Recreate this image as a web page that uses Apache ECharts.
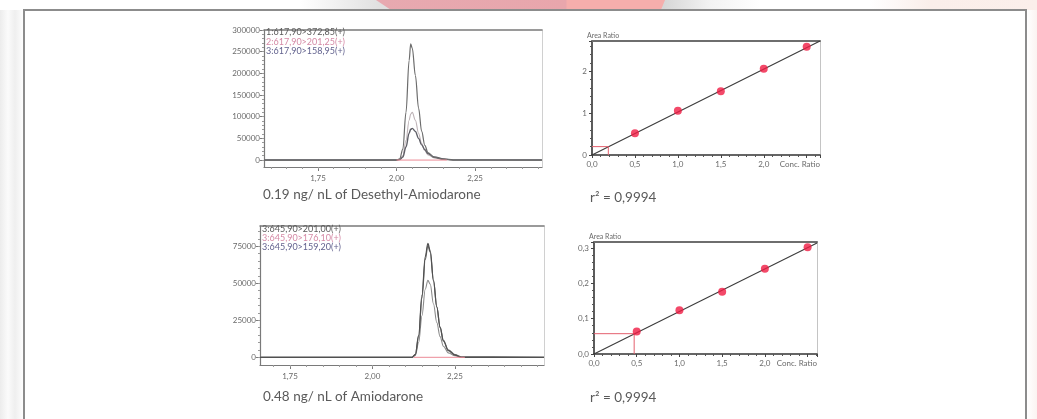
<!DOCTYPE html>
<html>
<head>
<meta charset="utf-8">
<script src="https://cdn.jsdelivr.net/npm/echarts@6/dist/echarts.min.js"></script>
<style>
  html, body { margin: 0; padding: 0; width: 1037px; height: 419px; overflow: hidden; }
  body {
    position: relative;
    background: linear-gradient(90deg, #ececec 0px, #fbfbfb 8px, #efefef 15px, #fdfdfd 23px, #fff 40px, #fff 1027px, #fbf3f1 1037px);
  }
  #strip {
    position: absolute; left: 0; top: 0; width: 1037px; height: 10px;
    background: linear-gradient(90deg, #fff 0px, #fff 300px, #e0e0e0 380px, #e0e0e0 390px, #fff 400px,
      #fff 650px, #d6d6d6 663px, #f2f2f2 709px, #fff 760px, #fff 870px, #faeeea 930px, #fbefeb 1037px);
  }
  #ribbon {
    position: absolute; left: 0; top: 0; width: 1037px; height: 10px;
    background: linear-gradient(90deg, #e7a9b0 376px, #e8a6ac 566px, #f5aeac 567px, #f5aeac 665px);
    clip-path: polygon(376px 0, 665px 0, 661px 10px, 391px 10px);
  }
  #frame {
    position: absolute; left: 23px; top: 9px; width: 1000px; height: 420px;
    border: 2px solid #8c8c8c; border-bottom: none; background: #fff;
  }
  #chart { position: absolute; left: 0; top: 0; width: 1037px; height: 419px; }
</style>
</head>
<body>
<div id="strip"></div>
<div id="ribbon"></div>
<div id="frame"></div>
<div id="chart"></div>
<script>
// ---- Chromatogram: 0.19 ng/nL Desethyl-Amiodarone (three MRM transitions) ----
const desNames = ['1:617,90>372,85(+)', '2:617,90>201,25(+)', '3:617,90>158,95(+)'];
const desTime  = [1.578, 2.000, 2.010, 2.020, 2.030, 2.040, 2.045, 2.050, 2.060, 2.070, 2.080, 2.090, 2.100, 2.120, 2.150, 2.180, 2.463];
const desIon1  = [0, 0, 3000, 25000, 110000, 230000, 268000, 258000, 195000, 120000, 66000, 34000, 17000, 6000, 2000, 0, 0];
const desIon2  = [0, 0, 1500, 10000, 45000, 92000, 106000, 110000, 92000, 62000, 38000, 22000, 12000, 5000, 1500, 0, 0];
const desIon3  = [0, 0, 1000, 7000, 30000, 62000, 71000, 73000, 66000, 50000, 35000, 24000, 15000, 7000, 2500, 500, 0];
const desIntegration = [[2.000, 0], [2.160, 0]];

// ---- Chromatogram: 0.48 ng/nL Amiodarone ----
const amiNames = ['3:645,90>201,00(+)', '3:645,90>176,10(+)', '3:645,90>159,20(+)'];
const amiTime  = [1.659, 2.120, 2.130, 2.140, 2.150, 2.160, 2.168, 2.175, 2.185, 2.195, 2.205, 2.215, 2.230, 2.250, 2.270, 2.520];
const amiIon1  = [0, 0, 2000, 15000, 42000, 68000, 77000, 72000, 52000, 34000, 20000, 11000, 4500, 1500, 0, 0];
const amiIon2  = [0, 0, 1300, 10000, 28000, 46000, 52000, 49500, 36000, 23500, 14000, 7500, 3000, 1000, 0, 0];
const amiIon3  = [0, 0, 1800, 14000, 40000, 66000, 75500, 71000, 51500, 34000, 20500, 11500, 5000, 1800, 300, 0];
const amiIntegration = [[2.125, 0], [2.280, 0]];

// ---- Calibration curves (Area Ratio vs Conc. Ratio) ----
const calConc     = [0.5, 1.0, 1.5, 2.0, 2.5];
const calDesRatio = [0.52, 1.055, 1.52, 2.06, 2.58];
const calAmiRatio = [0.064, 0.1235, 0.1765, 0.2416, 0.302];
const fitDes      = [[0, 0], [2.655, 2.72]];
const fitAmi      = [[0, 0], [2.61, 0.314]];
const sampleDes   = [[0, 0.20], [0.19, 0.20], [0.19, 0]];
const sampleAmi   = [[0, 0.0575], [0.47, 0.0575], [0.47, 0]];
const r2Text      = 'r² = 0,9994';

// ---- Tick labels ----
const desTimeTicks = [1.75, 2.00, 2.25];
const amiTimeTicks = [1.75, 2.00, 2.25];
const desIntTicks  = [0, 50000, 100000, 150000, 200000, 250000, 300000];
const amiIntTicks  = [0, 25000, 50000, 75000];

// axis extents
const desX = [1.578, 2.463], desY = [-16000, 300000];
const amiX = [1.659, 2.520], amiY = [-5200, 88700];
const calDesX = [0, 2.655], calDesY = [0, 2.72];
const calAmiX = [0, 2.61],  calAmiY = [0, 0.317];

const FONT = 'Lato, "DejaVu Sans", sans-serif';
const LABEL = { fontSize: 8, color: '#6a6a6a', fontFamily: FONT };

function pairs(xs, ys) { return xs.map((x, i) => [x, ys[i]]); }
function steps(from, to, step) {
  const out = [];
  for (let v = from; v <= to + 1e-9; v += step) out.push(+v.toFixed(6));
  return out;
}
const comma = (v, d) => v.toFixed(d).replace('.', ',');

// chromatogram axes: main (labels + major ticks), minor ticks, frame line
function chromX(grid, ext, ticks, minorStep) {
  return [
    { gridIndex: grid, type: 'value', min: ext[0], max: ext[1], position: 'bottom',
      axisLine: { onZero: false, lineStyle: { color: '#7a7a7a', width: 1.2 } },
      axisTick: { customValues: ticks, length: 4, lineStyle: { color: '#7a7a7a' } },
      axisLabel: { customValues: ticks, formatter: v => comma(v, 2), margin: 7, ...LABEL },
      splitLine: { show: false } },
    { gridIndex: grid, type: 'value', min: ext[0], max: ext[1], position: 'bottom',
      axisLine: { show: false, onZero: false },
      axisTick: { customValues: steps(Math.ceil(ext[0] / minorStep) * minorStep, ext[1], minorStep), length: 2, lineStyle: { color: '#9a9a9a' } },
      axisLabel: { show: false }, splitLine: { show: false } },
    { gridIndex: grid, type: 'value', min: ext[0], max: ext[1], position: 'top',
      axisLine: { onZero: false, lineStyle: { color: '#7a7a7a', width: 1.5 } },
      axisTick: { show: false }, axisLabel: { show: false }, splitLine: { show: false } }
  ];
}
function chromY(grid, ext, ticks, minorStep) {
  return [
    { gridIndex: grid, type: 'value', min: ext[0], max: ext[1], position: 'left',
      axisLine: { show: true, onZero: false, lineStyle: { color: '#7a7a7a', width: 1.2 } },
      axisTick: { show: true, customValues: ticks, length: 4, lineStyle: { color: '#7a7a7a' } },
      axisLabel: { customValues: ticks, margin: 4, formatter: v => String(Math.round(v)), ...LABEL },
      splitLine: { show: false } },
    { gridIndex: grid, type: 'value', min: ext[0], max: ext[1], position: 'left',
      axisLine: { show: false, onZero: false },
      axisTick: { show: true, customValues: steps(0, ext[1], minorStep), length: 2, lineStyle: { color: '#9a9a9a' } },
      axisLabel: { show: false }, splitLine: { show: false } },
    { gridIndex: grid, type: 'value', min: ext[0], max: ext[1], position: 'right',
      axisLine: { show: true, onZero: false, lineStyle: { color: '#d0d0d0', width: 1 } },
      axisTick: { show: false }, axisLabel: { show: false }, splitLine: { show: false } }
  ];
}
// calibration axes: main + frame line
function calX(grid, ext) {
  return [
    { gridIndex: grid, type: 'value', min: ext[0], max: ext[1], interval: 0.5, position: 'bottom',
      axisLine: { onZero: false, lineStyle: { color: '#333', width: 1.6 } },
      axisTick: { length: 3, lineStyle: { color: '#444' } },
      minorTick: { show: true, splitNumber: 5, length: 2, lineStyle: { color: '#555' } },
      axisLabel: { showMaxLabel: true, alignMaxLabel: 'right', margin: 5, ...LABEL,
        formatter: v => (v >= ext[1] - 1e-9 ? 'Conc. Ratio' : (Math.abs(v - 2.5) < 1e-9 ? '' : comma(v, 1))) },
      splitLine: { show: false } },
    { gridIndex: grid, type: 'value', min: ext[0], max: ext[1], position: 'top',
      axisLine: { onZero: false, lineStyle: { color: '#6e6e6e', width: 2 } },
      axisTick: { show: false }, axisLabel: { show: false }, splitLine: { show: false } }
  ];
}
function calY(grid, ext, interval, digits) {
  return [
    { gridIndex: grid, type: 'value', min: ext[0], max: ext[1], interval: interval, position: 'left',
      name: 'Area Ratio', nameLocation: 'end', nameGap: 2,
      nameTextStyle: { fontSize: 7, color: '#6a6a6a', fontFamily: FONT, align: 'left', padding: [0, 0, 0, -5] },
      axisLine: { show: true, onZero: false, lineStyle: { color: '#333', width: 1.6 } },
      axisTick: { show: true, length: 3, lineStyle: { color: '#444' } },
      minorTick: { show: true, splitNumber: 5, length: 2, lineStyle: { color: '#555' } },
      axisLabel: { showMaxLabel: false, margin: 5, ...LABEL, formatter: v => comma(v, digits) },
      splitLine: { show: false } },
    { gridIndex: grid, type: 'value', min: ext[0], max: ext[1], position: 'right',
      axisLine: { show: true, onZero: false, lineStyle: { color: '#c4c4c4', width: 1 } },
      axisTick: { show: false }, axisLabel: { show: false }, splitLine: { show: false } }
  ];
}

function trace(name, data, color, xi, yi, width) {
  return { name, type: 'line', data, xAxisIndex: xi, yAxisIndex: yi, showSymbol: false,
    smooth: 0.35, smoothMonotone: 'x', lineStyle: { color, width: width || 1.2 }, itemStyle: { color }, z: 3 };
}
function plain(name, data, color, xi, yi, width, z) {
  return { name, type: 'line', data, xAxisIndex: xi, yAxisIndex: yi, showSymbol: false,
    lineStyle: { color, width }, itemStyle: { color }, z: z || 2 };
}
function caption(text, left, top) {
  return { text, left, top, padding: 0,
    textStyle: { fontSize: 13.5, fontWeight: 'normal', color: '#5a5a5a', fontFamily: FONT } };
}
function legendFor(names, colors, left, top, lh) {
  return { left, top, orient: 'vertical', itemGap: 0, itemWidth: 0, itemHeight: 0, icon: 'none',
    selectedMode: false, padding: 0,
    data: names.map((n, i) => ({ name: n, textStyle: { color: colors[i] } })),
    textStyle: { fontSize: 9, fontFamily: FONT, lineHeight: lh, padding: 0 } };
}

const legendColors = ['#5a5a5a', '#d58aa6', '#62628e'];

const option = {
  animation: false,
  grid: [
    { left: 264, top: 30, width: 278, height: 137 },
    { left: 260, top: 226, width: 284, height: 139 },
    { left: 592, top: 41, width: 228, height: 114 },
    { left: 594, top: 242, width: 223, height: 112 }
  ],
  xAxis: [
    ...chromX(0, desX, desTimeTicks, 0.05),   // 0,1,2
    ...chromX(1, amiX, amiTimeTicks, 0.05),   // 3,4,5
    ...calX(2, calDesX),                      // 6,7
    ...calX(3, calAmiX)                       // 8,9
  ],
  yAxis: [
    ...chromY(0, desY, desIntTicks, 10000),   // 0,1,2
    ...chromY(1, amiY, amiIntTicks, 5000),    // 3,4,5
    ...calY(2, calDesY, 1, 0),                // 6,7
    ...calY(3, calAmiY, 0.1, 1)               // 8,9
  ],
  legend: [
    legendFor(desNames, legendColors, 261, 27, 9.8),
    legendFor(amiNames, legendColors, 257, 225, 8.4)
  ],
  title: [
    caption('0.19 ng/ nL of Desethyl-Amiodarone', 263, 188),
    caption(r2Text, 590, 191),
    caption('0.48 ng/ nL of Amiodarone', 263, 390),
    caption(r2Text, 590, 391)
  ],
  series: [
    plain('des-integration', desIntegration, '#ec8a96', 0, 0, 1, 4),
    trace(desNames[1], pairs(desTime, desIon2), '#bdb2b6', 0, 0, 1.1),
    trace(desNames[2], pairs(desTime, desIon3), '#5e5e66', 0, 0, 1.4),
    trace(desNames[0], pairs(desTime, desIon1), '#6c6c6c', 0, 0, 1.2),

    plain('ami-integration', amiIntegration, '#ec8a96', 3, 3, 1, 4),
    trace(amiNames[1], pairs(amiTime, amiIon2), '#8a8a8a', 3, 3, 1.1),
    trace(amiNames[2], pairs(amiTime, amiIon3), '#666666', 3, 3, 1.2),
    trace(amiNames[0], pairs(amiTime, amiIon1), '#505050', 3, 3, 1.2),

    plain('des-fit', fitDes, '#3c3c3c', 6, 6, 1.1, 2),
    plain('des-sample', sampleDes, '#e4606e', 6, 6, 1, 3),
    { name: 'des-standards', type: 'scatter', xAxisIndex: 6, yAxisIndex: 6, data: pairs(calConc, calDesRatio),
      symbolSize: 8, itemStyle: { color: '#f01c44' }, z: 5 },

    plain('ami-fit', fitAmi, '#3c3c3c', 8, 8, 1.1, 2),
    plain('ami-sample', sampleAmi, '#e4606e', 8, 8, 1, 3),
    { name: 'ami-standards', type: 'scatter', xAxisIndex: 8, yAxisIndex: 8, data: pairs(calConc, calAmiRatio),
      symbolSize: 8, itemStyle: { color: '#f01c44' }, z: 5 }
  ]
};

const chart = echarts.init(document.getElementById('chart'), null, { renderer: 'canvas' });
chart.setOption(option);
</script>
</body>
</html>
